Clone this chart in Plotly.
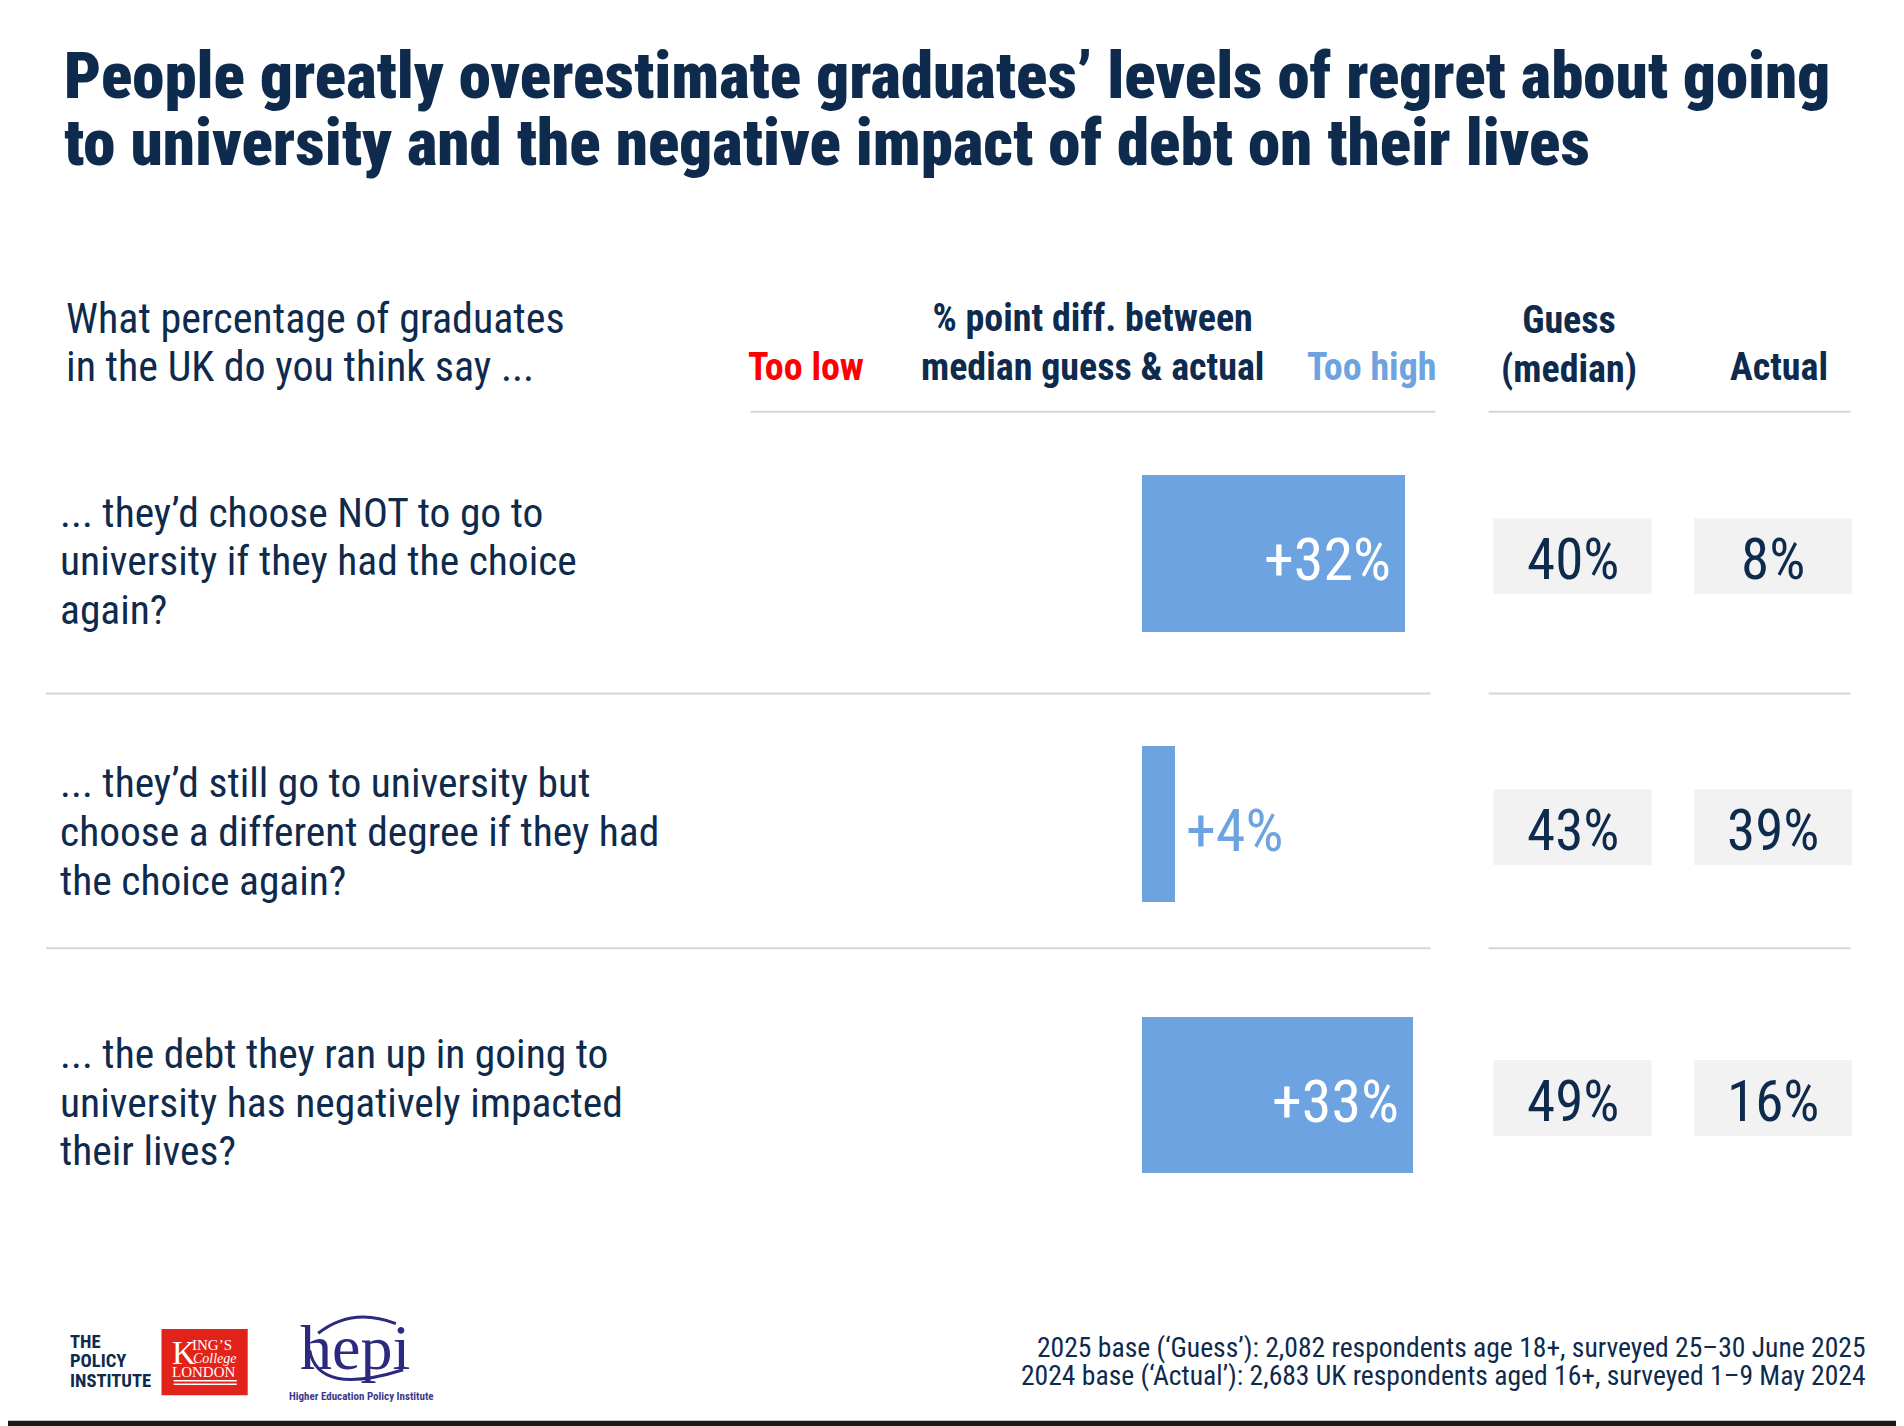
import plotly.graph_objects as go

# data
questions = [
    "... they’d choose NOT to go to<br>university if they had the choice<br>again?",
    "... they’d still go to university but<br>choose a different degree if they had<br>the choice again?",
    "... the debt they ran up in going to<br>university has negatively impacted<br>their lives?",
]
guess = [40, 43, 49]      # median guess, %
actual = [8, 39, 16]      # actual, %
diff = [g - a for g, a in zip(guess, actual)]
rows = list(range(len(questions)))
value_cols = ["Guess", "Actual"]

NAVY = "#0E2A4D"
BLUE = "#6CA3E0"
RED = "#FF0000"
GREY_BOX = "#F2F2F2"
RULE = "#D6D6D6"
COND = "Roboto Condensed, Roboto, sans-serif"
SERIF = "Liberation Serif, Times New Roman, serif"

# page has an 8px body margin, so the figure is a bit smaller than the window
W, H = 1896, 1418
S = 1904 / 1568  # reference measured at 1568 px wide


def px(d):
    return (d * S - 8) / W


def py(d):
    return 1 - (d * S - 8) / H


fig = go.Figure()

# difference bars
fig.add_trace(go.Bar(
    x=diff, y=rows, orientation="h", width=0.578,
    marker=dict(color=BLUE, line=dict(width=0)),
    hoverinfo="skip", showlegend=False,
))

# grey boxes behind guess / actual values (invisible markers keep the x2 axis in use)
shapes = []
for c in range(len(value_cols)):
    for r in rows:
        shapes.append(dict(type="rect", xref="x2", yref="y", layer="below",
                           x0=c - 0.394, x1=c + 0.394, y0=r - 0.13, y1=r + 0.15,
                           fillcolor=GREY_BOX, line=dict(width=0)))
fig.add_trace(go.Scatter(x=[0, 1], y=[0, 0], xaxis="x2", yaxis="y", mode="markers",
                         marker=dict(opacity=0), hoverinfo="skip", showlegend=False))

ann = []

# guess / actual values
for c, vals in enumerate([guess, actual]):
    for r, v in zip(rows, vals):
        ann.append(dict(x=c, y=r, xref="x2", yref="y", text=f"{v}%", showarrow=False,
                        xanchor="center", yanchor="middle", yshift=-6,
                        font=dict(family=COND, size=57, color=NAVY)))

# bar labels
for r, d in zip(rows, diff):
    inside = d >= 10
    ann.append(dict(
        x=d, y=r, xref="x", yref="y", text=f"+{d}%", showarrow=False,
        xanchor="right" if inside else "left", xshift=-12 if inside else 8, yshift=-6,
        font=dict(family=COND, size=60, color="white" if inside else BLUE),
    ))

# question labels, one annotation per line
LINE = 40 * S
for r, q in zip(rows, questions):
    lines = q.split("<br>")
    for k, line in enumerate(lines):
        ann.append(dict(
            x=px(48), y=r, xref="paper", yref="y", text=line, showarrow=False,
            xanchor="left", yanchor="middle", align="left",
            yshift=-(k - (len(lines) - 1) / 2) * LINE - 7,
            font=dict(family=COND, size=41.5, color=NAVY),
        ))

# title
HEAVY = "font-stretch:condensed;font-weight:900"
for text, yd in [("People greatly overestimate graduates’ levels of regret about going", 85),
                 ("to university and the negative impact of debt on their lives", 140)]:
    ann.append(dict(x=px(51), y=py(yd), xref="paper", yref="paper",
                    text=f"<span style='{HEAVY}'>{text}</span>",
                    showarrow=False, xanchor="left", yanchor="bottom", yshift=-13,
                    font=dict(family="Roboto, sans-serif", size=65, color=NAVY)))

# column headers
head = [
    ("What percentage of graduates", 53, 262, "left", NAVY, False),
    ("in the UK do you think say ...", 53, 302, "left", NAVY, False),
    ("% point diff. between<br>median guess & actual", 900, 282, "center", NAVY, True),
    ("Too low", 664, 302, "center", RED, True),
    ("Too high", 1130, 302, "center", BLUE, True),
    ("Guess<br>(median)", 1292, 284, "center", NAVY, True),
    ("Actual", 1465, 302, "center", NAVY, True),
]
for text, xd, yd, anchor, col, bold in head:
    ann.append(dict(x=px(xd), y=py(yd), xref="paper", yref="paper",
                    text=f"<b>{text}</b>" if bold else text, showarrow=False,
                    xanchor=anchor, yanchor="middle", align=anchor,
                    font=dict(family=COND, size=38 if bold else 42, color=col)))

# footnote
for text, yd in [("2025 base (‘Guess’): 2,082 respondents age 18+, surveyed 25–30 June 2025", 1110),
                 ("2024 base (‘Actual’): 2,683 UK respondents aged 16+, surveyed 1–9 May 2024", 1133)]:
    ann.append(dict(x=px(1538), y=py(yd), xref="paper", yref="paper", text=text,
                    showarrow=False, xanchor="right", yanchor="middle",
                    font=dict(family=COND, size=27.6, color=NAVY)))

# logos (approximated with text and shapes)
for text, yd in [("THE", 1105), ("POLICY", 1120.5), ("INSTITUTE", 1137)]:
    ann.append(dict(x=px(56), y=py(yd), xref="paper", yref="paper", text=f"<b>{text}</b>",
                    showarrow=False, xanchor="left", yanchor="middle",
                    font=dict(family=COND, size=18.6, color=NAVY)))
shapes.append(dict(type="rect", xref="paper", yref="paper", x0=px(133), x1=px(204),
                   y0=py(1149), y1=py(1094.5), fillcolor="#E2231A", line=dict(width=0)))
kings = [("K", 141, 1114, 33, False), ("ING’S", 157, 1107.5, 15, False),
         ("College", 158, 1118.5, 14, True), ("LONDON", 141, 1129.5, 15, False)]
for text, xd, yd, size, ital in kings:
    ann.append(dict(x=px(xd), y=py(yd), xref="paper", yref="paper",
                    text=f"<i>{text}</i>" if ital else text,
                    showarrow=False, xanchor="left", yanchor="middle", borderpad=0,
                    font=dict(family=SERIF, size=size, color="white")))
for yd in [1137, 1140]:
    shapes.append(dict(type="line", xref="paper", yref="paper", x0=px(143), x1=px(195),
                       y0=py(yd), y1=py(yd), line=dict(color="white", width=1.5)))
ann.append(dict(x=px(292), y=py(1110), xref="paper", yref="paper", text="hepi",
                showarrow=False, xanchor="center", yanchor="middle",
                font=dict(family=SERIF, size=64, color="#2B2A7E")))
ann.append(dict(x=px(298), y=py(1150), xref="paper", yref="paper",
                text="<b>Higher Education Policy Institute</b>", showarrow=False,
                xanchor="center", yanchor="middle",
                font=dict(family=COND, size=11, color="#3C3A8C")))
shapes.append(dict(type="path", xref="paper", yref="paper",
                   path=f"M {px(255)},{py(1112)} Q {px(262)},{py(1150)} {px(332)},{py(1128)}",
                   line=dict(color="#2B2A7E", width=3)))
shapes.append(dict(type="path", xref="paper", yref="paper",
                   path=f"M {px(262)},{py(1098)} Q {px(290)},{py(1076)} {px(326)},{py(1090)}",
                   line=dict(color="#2B2A7E", width=3)))

# rules
for x0, x1 in [(618, 1182), (1226, 1524)]:
    shapes.append(dict(type="line", xref="paper", yref="paper", x0=px(x0), x1=px(x1),
                       y0=py(339), y1=py(339), line=dict(color=RULE, width=2)))
for yv in [0.516, 1.457]:
    for x0, x1 in [(38, 1178), (1226, 1524)]:
        shapes.append(dict(type="line", xref="paper", yref="y", x0=px(x0), x1=px(x1),
                           y0=yv, y1=yv, line=dict(color=RULE, width=2)))
# bottom bar
shapes.append(dict(type="rect", xref="paper", yref="paper", x0=0, x1=1,
                   y0=0, y1=py(1170), fillcolor="#1A1A1A", line=dict(width=0)))

fig.update_layout(
    width=W, height=H, autosize=False,
    margin=dict(l=0, r=0, t=0, b=0),
    paper_bgcolor="white", plot_bgcolor="rgba(0,0,0,0)",
    bargap=0, showlegend=False,
    xaxis=dict(domain=[px(618), px(1182)], range=[-47.9, 35.7], visible=False, fixedrange=True),
    xaxis2=dict(domain=[px(1212.5), px(1542.5)], range=[-0.5, 1.5], anchor="y", visible=False),
    yaxis=dict(domain=[py(1013.5), py(344.5)], range=[2.5, -0.5], visible=False),
    shapes=shapes, annotations=ann,
)

fig.write_html("out.html")
